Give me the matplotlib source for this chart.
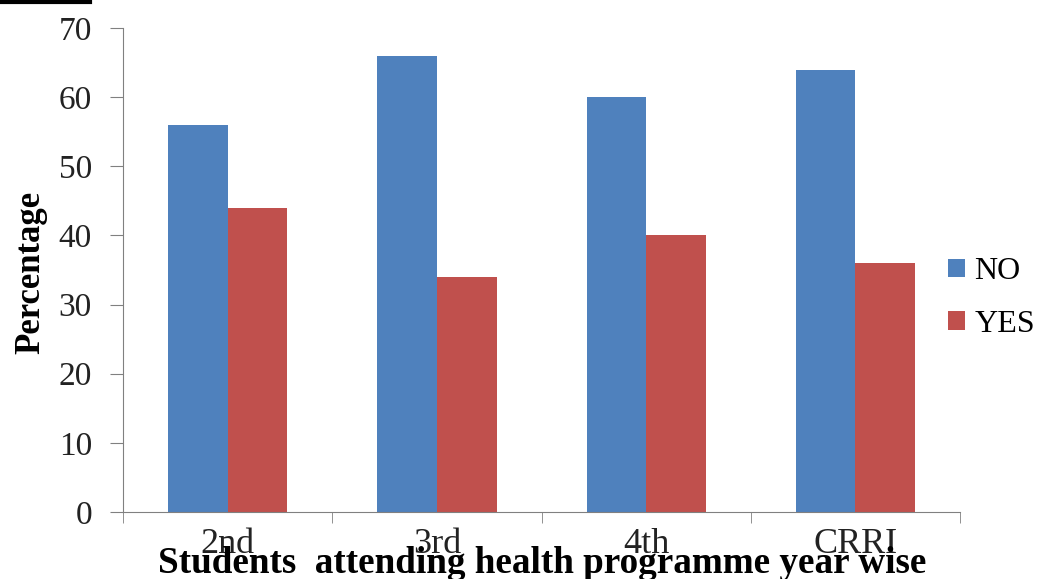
import matplotlib
matplotlib.use("Agg")
import matplotlib.pyplot as plt
import numpy as np
from matplotlib.lines import Line2D

categories = ["2nd", "3rd", "4th", "CRRI"]
no_values = [56, 66, 60, 64]
yes_values = [44, 34, 40, 36]
yticks = [0, 10, 20, 30, 40, 50, 60, 70]

plt.rcParams['font.family'] = ['Liberation Serif', 'DejaVu Serif']

fig = plt.figure(figsize=(10.45, 5.79), dpi=100)
ax = fig.add_axes([0.1177, 0.1157, 0.8010, 0.8359])

x = np.arange(len(categories))
w = 0.285
ax.bar(x - w/2, no_values, w, color='#4F81BD', label='NO')
ax.bar(x + w/2, yes_values, w, color='#C0504D', label='YES')

ax.set_xlim(-0.5, len(categories) - 0.5)
ax.set_ylim(0, 70)
ax.set_yticks(yticks)
ax.tick_params(axis='y', labelsize=24, length=9.4, color='#808080', pad=13,
               labelcolor='#222222')
ax.set_xticks(x)
ax.set_xticklabels(categories, fontsize=26)
ax.tick_params(axis='x', length=0, pad=11.5, labelcolor='#222222')
ax.set_xticks(np.arange(len(categories) + 1) - 0.5, minor=True)
ax.tick_params(axis='x', which='minor', length=8, color='#808080')

for s in ['top', 'right']:
    ax.spines[s].set_visible(False)
for s in ['left', 'bottom']:
    ax.spines[s].set_color('#808080')

ax.set_ylabel('Percentage', fontsize=25, fontweight='bold')
ax.yaxis.set_label_coords(-0.0908, 0.494)
fig.text(0.519, 6 / 579, 'Students  attending health programme year wise',
         fontsize=26.7, fontweight='bold', ha='center', va='baseline')

ax.legend(loc='center left', bbox_to_anchor=(0.970, 0.442), frameon=False,
          fontsize=23, handlelength=0.53, handleheight=0.53, handletextpad=0.31,
          labelspacing=0.74, borderaxespad=0)

fig.add_artist(Line2D([0, 0.086], [0.9965, 0.9965], color='black', lw=3,
                      transform=fig.transFigure))

fig.savefig('out.png', dpi=100)
